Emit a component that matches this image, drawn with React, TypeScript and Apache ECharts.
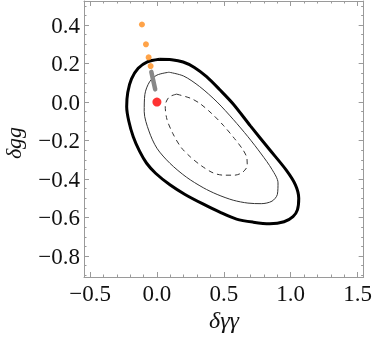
import React, { useEffect, useRef } from "react";
import * as echarts from "echarts";

const xMajor = [-0.5, 0, 0.5, 1.0, 1.5];
const xMinor = [-0.4, -0.3, -0.2, -0.1, 0.1, 0.2, 0.3, 0.4, 0.6, 0.7, 0.8, 0.9, 1.1, 1.2, 1.3, 1.4];
const yMajor = [-0.8, -0.6, -0.4, -0.2, 0, 0.2, 0.4];
const yMinor = [-0.9, -0.85, -0.75, -0.7, -0.65, -0.55, -0.5, -0.45, -0.35, -0.3, -0.25, -0.15, -0.1, -0.05, 0.05, 0.1, 0.15, 0.25, 0.3, 0.35, 0.45, 0.5];

const outerContour: [number, number][] = [
  [0.02, 0.222], [0.11, 0.22], [0.196, 0.208], [0.28, 0.18], [0.371, 0.132],
  [0.47, 0.064], [0.57, -0.01], [0.7, -0.125], [0.843, -0.248], [0.968, -0.355],
  [1.035, -0.43], [1.06, -0.5], [1.05, -0.56], [1.017, -0.595], [0.95, -0.622],
  [0.843, -0.632], [0.72, -0.624], [0.595, -0.608], [0.47, -0.572], [0.34, -0.528],
  [0.21, -0.48], [0.097, -0.43], [-0.01, -0.37], [-0.077, -0.318], [-0.13, -0.255],
  [-0.177, -0.18], [-0.21, -0.1], [-0.226, -0.024], [-0.218, 0.05], [-0.19, 0.12],
  [-0.14, 0.175], [-0.075, 0.208], [0.02, 0.222],
];

const middleContour: [number, number][] = [
  [0.09, 0.155], [0.2, 0.135], [0.32, 0.08], [0.45, 0.0], [0.57, -0.09],
  [0.68, -0.18], [0.78, -0.27], [0.86, -0.35], [0.905, -0.42], [0.9, -0.48],
  [0.86, -0.515], [0.78, -0.528], [0.68, -0.525], [0.57, -0.51], [0.45, -0.48],
  [0.346, -0.445], [0.22, -0.39], [0.097, -0.318], [0.0, -0.24], [-0.06, -0.15],
  [-0.095, -0.05], [-0.09, 0.04], [-0.055, 0.105], [0.0, 0.14], [0.09, 0.155],
];

const innerContour: [number, number][] = [
  [0.147, 0.041], [0.25, 0.02], [0.32, -0.007], [0.41, -0.06], [0.495, -0.12],
  [0.58, -0.19], [0.64, -0.245], [0.672, -0.29], [0.675, -0.33], [0.64, -0.365],
  [0.58, -0.38], [0.5, -0.38], [0.42, -0.368], [0.33, -0.33], [0.25, -0.285],
  [0.18, -0.235], [0.12, -0.165], [0.075, -0.09], [0.062, -0.02], [0.09, 0.025],
  [0.147, 0.041],
];

const grayTrack: [number, number][] = [[-0.042, 0.157], [-0.013, 0.066]];
const orangePoints: [number, number][] = [[-0.112, 0.403], [-0.082, 0.3], [-0.062, 0.232], [-0.047, 0.187]];
const redPoint: [number, number][] = [[0, 0]];

const X_MIN = -0.545, X_MAX = 1.545, Y_MIN = -0.909, Y_MAX = 0.525;

const fmt = (v: number) => (v < 0 ? "\u2212" : "") + Math.abs(v).toFixed(1);

export default function App() {
  const ref = useRef<HTMLDivElement>(null);
  useEffect(() => {
    if (!ref.current) return;
    const chart = echarts.init(ref.current, undefined, { renderer: "svg" });
    const frameColor = "#9a9a9a";
    const labelStyle = { fontFamily: "Liberation Serif", fontSize: 23, color: "#111" };
    const mkX = (pos: "top" | "bottom", major: boolean, labels: boolean) => ({
      type: "value", position: pos, min: X_MIN, max: X_MAX, gridIndex: 0,
      axisLine: { show: major, onZero: false, lineStyle: { color: frameColor, width: 1 } },
      axisTick: { show: true, inside: true, length: major ? 5 : 2.5, customValues: major ? xMajor : xMinor, lineStyle: { color: frameColor } },
      axisLabel: labels ? { show: true, customValues: xMajor, formatter: fmt, margin: 5, ...labelStyle } : { show: false },
      splitLine: { show: false },
    });
    const mkY = (pos: "left" | "right", major: boolean, labels: boolean) => ({
      type: "value", position: pos, min: Y_MIN, max: Y_MAX, gridIndex: 0,
      axisLine: { show: major, onZero: false, lineStyle: { color: frameColor, width: 1 } },
      axisTick: { show: true, inside: true, length: major ? 5 : 2.5, customValues: major ? yMajor : yMinor, lineStyle: { color: frameColor } },
      axisLabel: labels ? { show: true, customValues: yMajor, formatter: fmt, margin: 4, ...labelStyle } : { show: false },
      splitLine: { show: false },
    });
    chart.setOption({
      animation: false,
      grid: { left: 84, right: 11, top: 1, bottom: 65, containLabel: false },
      xAxis: [mkX("bottom", true, true), mkX("bottom", false, false), mkX("top", true, false), mkX("top", false, false)],
      yAxis: [mkY("left", true, true), mkY("left", false, false), mkY("right", true, false), mkY("right", false, false)],
      graphic: [
        { type: "text", x: 224, y: 320, style: { text: "δγγ", font: "italic 24px 'Liberation Serif'", fill: "#111", textAlign: "center", textVerticalAlign: "middle" } },
        { type: "text", x: 13, y: 143, rotation: Math.PI / 2, style: { text: "δgg", font: "italic 22px 'Liberation Serif'", fill: "#111", textAlign: "center", textVerticalAlign: "middle" } },
      ],
      series: [
        { type: "line", data: outerContour, smooth: 0.3, showSymbol: false, lineStyle: { color: "#000", width: 3 }, z: 3 },
        { type: "line", data: middleContour, smooth: 0.3, showSymbol: false, lineStyle: { color: "#333", width: 1 }, z: 3 },
        { type: "line", data: innerContour, smooth: 0.3, showSymbol: false, lineStyle: { color: "#333", width: 1, type: [5, 4] }, z: 3 },
        { type: "line", data: grayTrack, showSymbol: false, lineStyle: { color: "#888", width: 4.5, cap: "round" }, z: 4 },
        { type: "scatter", data: orangePoints, symbolSize: 6, itemStyle: { color: "#FF8C1A" }, z: 5 },
        { type: "scatter", data: redPoint, symbolSize: 9, itemStyle: { color: "#FF0000" }, z: 5 },
      ],
    });
    return () => chart.dispose();
  }, []);
  return <div ref={ref} style={{ position: "fixed", left: 0, top: 0, width: 375, height: 342 }} />;
}
